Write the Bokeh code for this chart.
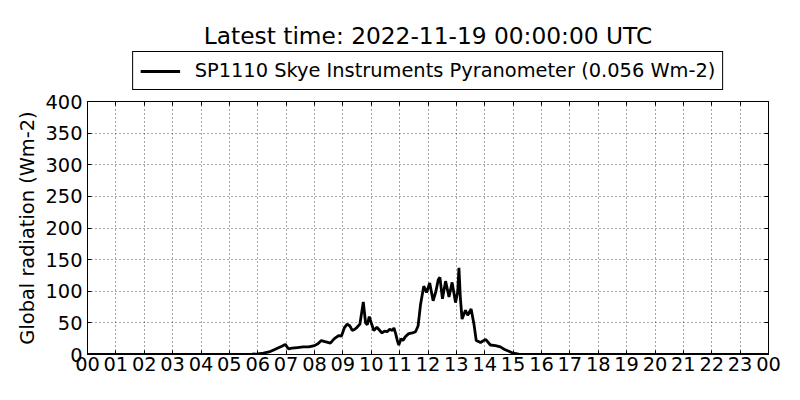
from bokeh.plotting import figure
from bokeh.layouts import column
from bokeh.models import Range1d, FixedTicker, Legend, LegendItem, LinearAxis
from bokeh.embed import file_html
from bokeh.resources import INLINE

hours = [0.0, 1.0, 2.0, 3.0, 4.0, 5.0, 5.5, 5.8, 6.0, 6.2, 6.4, 6.6, 6.75, 6.85, 6.97,
         7.08, 7.2, 7.4, 7.6, 7.8, 8.0, 8.12, 8.24, 8.4, 8.56, 8.7, 8.85, 8.95, 9.05,
         9.15, 9.25, 9.33, 9.42, 9.5, 9.6, 9.72, 9.8, 9.86, 9.93, 10.0, 10.09, 10.2,
         10.3, 10.38, 10.47, 10.56, 10.65, 10.74, 10.8, 10.86, 10.92, 10.97, 11.05,
         11.12, 11.2, 11.32, 11.45, 11.56, 11.65, 11.74, 11.85, 11.95, 12.06, 12.18,
         12.28, 12.36, 12.42, 12.51, 12.62, 12.74, 12.85, 12.97, 13.05, 13.09, 13.14,
         13.2, 13.32, 13.4, 13.52, 13.62, 13.7, 13.85, 14.03, 14.2, 14.38, 14.55, 14.7,
         14.85, 15.0, 15.2, 15.5, 24.0]
radiation = [0, 0, 0, 0, 0, 0, 0.3, 0.5, 1, 2, 4, 8, 11, 13, 16,
             9, 10, 11, 12, 12, 14, 17, 22, 20, 18, 25, 30, 29, 42,
             48, 45, 38, 40, 43, 48, 83, 50, 47, 60, 50, 38, 43,
             38, 34, 37, 36, 40, 38, 42, 33, 22, 15, 25,
             22, 28, 33, 34, 36, 45, 80, 108, 98, 113, 85,
             100, 118, 122, 88, 116, 91, 114, 82, 100, 137, 90,
             56, 70, 62, 72, 48, 22, 19, 24, 15, 14, 12, 8,
             5, 2, 0.5, 0.2, 0.2]
x_ticks = list(range(25))
x_labels = ["%02d" % (h % 24) for h in x_ticks]
y_ticks = [0, 50, 100, 150, 200, 250, 300, 350, 400]

title_text = "Latest time: 2022-11-19 00:00:00 UTC"
legend_text = "SP1110 Skye Instruments Pyranometer (0.056 Wm-2)"
y_label = "Global radiation (Wm-2)"

FONT = "DejaVu Sans"
FS = "19.4px"
LINE_W = 2.8
NAN = float("nan")

# ---- header: title + legend ----
head = figure(width=784, height=92, output_backend="svg", toolbar_location=None,
              x_range=Range1d(0, 1), y_range=Range1d(0, 1),
              x_axis_location=None, y_axis_location=None,
              min_border_left=87, min_border_right=16, min_border_top=48, min_border_bottom=0)
head.grid.visible = False
head.outline_line_color = None
head.title.text = title_text
head.title.align = "center"
head.title.text_font = FONT
head.title.text_font_size = "23.3px"
head.title.text_font_style = "normal"
head.title.text_color = "black"
head.title.standoff = 0
key = head.line(x=[NAN], y=[NAN], line_color="black", line_width=LINE_W)
legend = Legend(items=[LegendItem(label=legend_text, renderers=[key])],
                location="bottom_center", orientation="horizontal",
                label_text_font=FONT, label_text_font_size=FS, label_text_color="black",
                glyph_width=40, glyph_height=20, label_standoff=15,
                padding=7, margin=2, border_line_color="black", border_line_width=1,
                border_line_alpha=1.0,
                background_fill_color="white", background_fill_alpha=1.0)
head.add_layout(legend, "center")

# ---- main plot ----
p = figure(width=784, height=292, output_backend="svg", toolbar_location=None,
           x_range=Range1d(0, 24), y_range=Range1d(0, 400),
           min_border_left=87, min_border_right=16, min_border_top=9, min_border_bottom=30)

p.line(hours, radiation, line_color="black", line_width=LINE_W)

p.xaxis.ticker = FixedTicker(ticks=x_ticks)
p.xaxis.major_label_overrides = {t: l for t, l in zip(x_ticks, x_labels)}
p.yaxis.ticker = FixedTicker(ticks=y_ticks)
for ax in (p.xaxis, p.yaxis):
    ax.major_tick_in = 4
    ax.major_tick_out = 0
    ax.minor_tick_line_color = None
    ax.major_label_text_font = FONT
    ax.major_label_text_font_size = FS
    ax.major_label_text_color = "black"
    ax.axis_line_color = "black"
    ax.major_tick_line_color = "black"
p.xaxis.major_label_standoff = 2
p.yaxis.major_label_standoff = 5
p.yaxis.axis_label = y_label
p.yaxis.axis_label_text_font = FONT
p.yaxis.axis_label_text_font_size = FS
p.yaxis.axis_label_text_font_style = "normal"
p.yaxis.axis_label_text_color = "black"
p.yaxis.axis_label_standoff = 3

top_ax = LinearAxis(ticker=FixedTicker(ticks=x_ticks),
                    major_label_overrides={t: "" for t in x_ticks},
                    major_label_text_font_size="0px", major_label_standoff=0,
                    major_tick_in=4, major_tick_out=0, minor_tick_line_color=None,
                    axis_line_color=None, major_tick_line_color="black")
right_ax = LinearAxis(ticker=FixedTicker(ticks=y_ticks),
                      major_label_overrides={t: "" for t in y_ticks},
                      major_label_text_font_size="0px", major_label_standoff=0,
                      major_tick_in=4, major_tick_out=0, minor_tick_line_color=None,
                      axis_line_color=None, major_tick_line_color="black")
p.add_layout(top_ax, "above")
p.add_layout(right_ax, "right")

p.grid.grid_line_color = "black"
p.grid.grid_line_dash = "1 3"
p.grid.grid_line_width = 1
p.grid.grid_line_alpha = 0.7
p.outline_line_color = "black"
p.outline_line_width = 1
p.outline_line_alpha = 1.0

page = column(head, p, spacing=0)
open("out.html", "w").write(file_html(page, INLINE))
